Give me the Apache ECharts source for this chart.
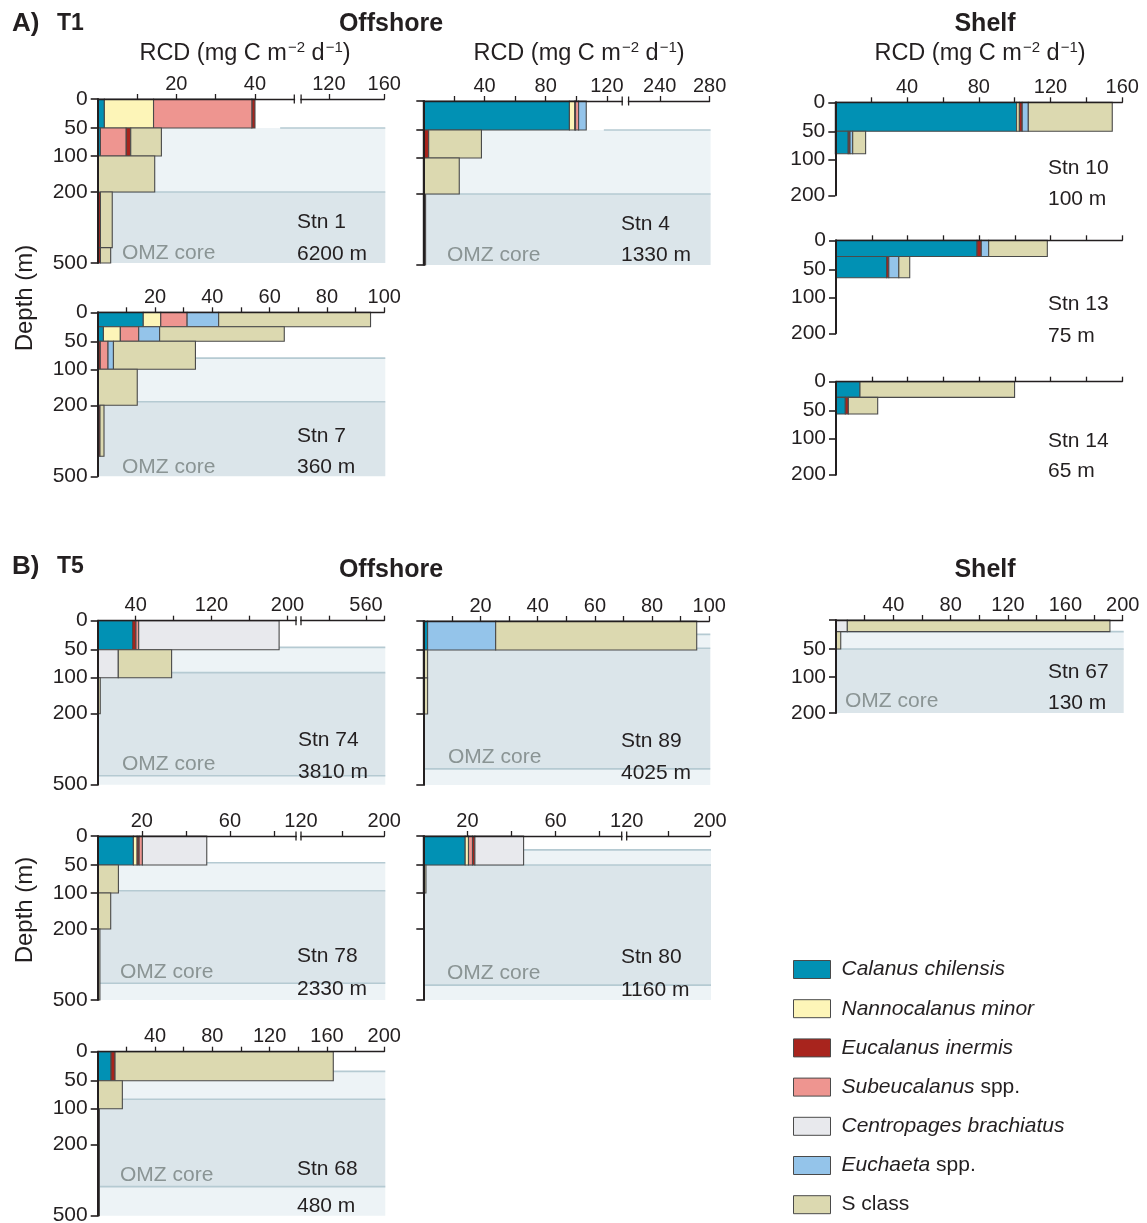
<!DOCTYPE html>
<html>
<head>
<meta charset="utf-8">
<script src="https://cdn.jsdelivr.net/npm/echarts@6/dist/echarts.min.js"></script>
<style>
  html, body { margin: 0; padding: 0; background: #ffffff; }
  #chart { width: 1147px; height: 1223px; }
</style>
</head>
<body>
<div id="chart"></div>
<script>
// ---- taxa ----
const species = ['Calanus chilensis', 'Nannocalanus minor', 'Eucalanus inermis',
  'Subeucalanus spp.', 'Centropages brachiatus', 'Euchaeta spp.', 'S class'];
const CC = 0, NM = 1, EI = 2, SU = 3, CB = 4, EU = 5, SC = 6;

// ---- respiratory carbon demand per stratum ----
// row: [stratum top (m), stratum bottom (m), taxon, RCD (mg C m-2 d-1)], stacked in row order
const stn1 = [
  [0, 50, CC, 1.7], [0, 50, NM, 12.5], [0, 50, SU, 25.0], [0, 50, EI, 0.8],
  [50, 100, CC, 0.7], [50, 100, SU, 6.5], [50, 100, EI, 1.2], [50, 100, SC, 7.8],
  [100, 200, SC, 14.5],
  [200, 435, EI, 0.7], [200, 435, SC, 3.0],
  [435, 500, EI, 0.7], [435, 500, SC, 2.6]
];
const stn4 = [
  [0, 50, CC, 95.5], [0, 50, NM, 3.5], [0, 50, EI, 0.5], [0, 50, SU, 2.0], [0, 50, EU, 5.0],
  [50, 100, EI, 3.5], [50, 100, SC, 34.5],
  [100, 200, SC, 23.5],
  [200, 500, EI, 1.5]
];
const stn7 = [
  [0, 25, CC, 15.9], [0, 25, NM, 6.1], [0, 25, SU, 9.2], [0, 25, EU, 11.0], [0, 25, SC, 53.0],
  [25, 50, CC, 2.0], [25, 50, NM, 5.9], [25, 50, SU, 6.4], [25, 50, EU, 7.3], [25, 50, SC, 43.5],
  [50, 100, EI, 0.9], [50, 100, SU, 2.7], [50, 100, EU, 1.9], [50, 100, SC, 28.6],
  [100, 200, SC, 13.8],
  [200, 415, EI, 0.8], [200, 415, SC, 1.4]
];
const stn10 = [
  [0, 50, CC, 101.1], [0, 50, NM, 1.5], [0, 50, EI, 1.6], [0, 50, EU, 3.4], [0, 50, SC, 46.8],
  [50, 90, CC, 7.2], [50, 90, EI, 1.0], [50, 90, EU, 1.5], [50, 90, SC, 7.2]
];
const stn13 = [
  [0, 28, CC, 78.8], [0, 28, EI, 2.4], [0, 28, EU, 4.1], [0, 28, SC, 32.8],
  [28, 65, CC, 28.3], [28, 65, EI, 1.2], [28, 65, EU, 5.6], [28, 65, SC, 6.1]
];
const stn14 = [
  [0, 27, CC, 13.4], [0, 27, SC, 86.4],
  [27, 56, CC, 5.2], [27, 56, EI, 1.7], [27, 56, SC, 16.4]
];
const stn74 = [
  [0, 50, CC, 36.8], [0, 50, EI, 3.5], [0, 50, SU, 2.9], [0, 50, CB, 148.0],
  [50, 100, CB, 21.7], [50, 100, SC, 56.2],
  [100, 200, SC, 2.7]
];
const stn89 = [
  [0, 50, CC, 1.5], [0, 50, EU, 23.8], [0, 50, SC, 70.3],
  [50, 100, SC, 1.5], [100, 200, SC, 1.5]
];
const stn78 = [
  [0, 50, CC, 16.2], [0, 50, NM, 1.7], [0, 50, EI, 0.9], [0, 50, SU, 1.5], [0, 50, CB, 29.2],
  [50, 100, SC, 9.4], [100, 200, SC, 5.9], [200, 500, SC, 1.0]
];
const stn80 = [
  [0, 50, CC, 19.0], [0, 50, NM, 1.5], [0, 50, SU, 1.8], [0, 50, EI, 1.1], [0, 50, CB, 22.1],
  [50, 100, SC, 1.2]
];
const stn68 = [
  [0, 50, CC, 9.3], [0, 50, EI, 2.8], [0, 50, SC, 152.3],
  [50, 100, SC, 17.2], [100, 200, SC, 1.2], [200, 500, SC, 1.2]
];
const stn67 = [
  [0, 20, CB, 7.9], [0, 20, SC, 183.2],
  [20, 50, SC, 3.3]
];

// ---- oxygen zones: [top (m), bottom (m), 0 = oxycline / 1 = OMZ core] ----
const zones1 = [[50, 200, 0], [200, 500, 1]];
const zones4 = [[50, 200, 0], [200, 500, 1]];
const zones7 = [[80, 190, 0], [190, 500, 1]];
const zones74 = [[46, 91, 0], [91, 462, 1], [462, 500, 0]];
const zones89 = [[23, 47, 0], [47, 432, 1], [432, 500, 0]];
const zones78 = [[46, 96, 0], [96, 429, 1], [429, 500, 0]];
const zones80 = [[24, 50, 0], [50, 437, 1], [437, 500, 0]];
const zones68 = [[34, 83, 0], [83, 377, 1], [377, 500, 0]];
const zones67 = [[20, 50, 0], [50, 200, 1]];

// ---- axis ticks and tick labels ----
const deepDepthTicks = [0, 50, 100, 200, 500];
const shelfDepthTicks = [0, 50, 100, 200];
const stn1Ticks = [10, 20, 30, 40, 120, 160];
const stn1Labels = [20, 40, 120, 160];
const stn4Ticks = [20, 40, 60, 80, 100, 120, 240, 280];
const stn4Labels = [40, 80, 120, 240, 280];
const ticks0to100 = [10, 20, 30, 40, 50, 60, 70, 80, 90, 100];
const labels0to100 = [20, 40, 60, 80, 100];
const ticks0to160 = [20, 40, 60, 80, 100, 120, 140, 160];
const labels0to160 = [40, 80, 120, 160];
const stn74Ticks = [40, 80, 120, 160, 200, 480, 560, 600];
const stn74Labels = [40, 120, 200, 560];
const brokenTicks200 = [20, 40, 60, 80, 160, 200];
const brokenLabels200 = [20, 60, 120, 200];
const ticks0to200 = [20, 40, 60, 80, 100, 120, 140, 160, 180, 200];
const labels0to200 = [40, 80, 120, 160, 200];

// ---- styling ----
const FONT = '"Liberation Sans", Arial, Helvetica, sans-serif';
const INK = '#231f20';
const EDGE = '#4a4a4a';
const speciesColors = ['#0191b4', '#fdf5b8', '#a8241d', '#ee9590', '#e8e9ed', '#94c4ea', '#dcd9b0'];
const zoneFill = ['#edf3f6', '#dbe5ea'];
const zoneLine = '#b5cad2';

// depth scale: piecewise, uneven spacing between labelled depths
const deepDepthScale = [[0, 0], [50, 29], [100, 57], [200, 93], [500, 164]];
const shelfDepthScale = [[0, 0], [50, 29], [100, 57], [200, 93]];

const panels = [
  { rows: stn1, zones: zones1, lineFrom: [46.4, 0], left: 97.7, top: 99, width: 286.6, depthScale: deepDepthScale, depthTicks: deepDepthTicks, depthLabels: deepDepthTicks,
    rcdScale: [[0, 0], [50, 196.6], [100, 203.4], [160, 286.6]], gap: [50, 100], ticks: stn1Ticks, labels: stn1Labels,
    name: 'Stn 1', bottom: '6200 m', nameAt: [297, 222, 254], coreAt: [122, 253] },
  { rows: stn4, zones: zones4, lineFrom: [118, 0], left: 423.3, top: 101, width: 286.3, depthScale: deepDepthScale, depthTicks: deepDepthTicks, depthLabels: [],
    rcdScale: [[0, 0], [130, 198.9], [215, 205.3], [280, 286.3]], gap: [130, 215], ticks: stn4Ticks, labels: stn4Labels,
    name: 'Stn 4', bottom: '1330 m', nameAt: [621, 224, 255], coreAt: [447, 255] },
  { rows: stn7, zones: zones7, left: 97.7, top: 312.3, width: 286.6, depthScale: deepDepthScale, depthTicks: deepDepthTicks, depthLabels: deepDepthTicks,
    rcdScale: [[0, 0], [100, 286.6]], ticks: ticks0to100, labels: labels0to100,
    name: 'Stn 7', bottom: '360 m', nameAt: [297, 436, 467], coreAt: [122, 467] },
  { rows: stn10, zones: [], left: 835.3, top: 102.3, width: 287, depthScale: shelfDepthScale, depthTicks: shelfDepthTicks, depthLabels: shelfDepthTicks,
    rcdScale: [[0, 0], [160, 287]], ticks: ticks0to160, labels: labels0to160,
    name: 'Stn 10', bottom: '100 m', nameAt: [1048, 168, 199] },
  { rows: stn13, zones: [], left: 836, top: 240.3, width: 286.3, depthScale: shelfDepthScale, depthTicks: shelfDepthTicks, depthLabels: shelfDepthTicks,
    rcdScale: [[0, 0], [160, 286.3]], ticks: ticks0to160, labels: [],
    name: 'Stn 13', bottom: '75 m', nameAt: [1048, 304, 336] },
  { rows: stn14, zones: [], left: 836, top: 381.7, width: 286.3, depthScale: shelfDepthScale, depthTicks: shelfDepthTicks, depthLabels: shelfDepthTicks,
    rcdScale: [[0, 0], [160, 286.3]], ticks: ticks0to160, labels: [],
    name: 'Stn 14', bottom: '65 m', nameAt: [1048, 441, 471] },
  { rows: stn74, zones: zones74, left: 97.7, top: 620.7, width: 286.6, depthScale: deepDepthScale, depthTicks: deepDepthTicks, depthLabels: deepDepthTicks,
    rcdScale: [[0, 0], [209, 198.3], [418, 203.3], [600, 286.6]], gap: [209, 418], ticks: stn74Ticks, labels: stn74Labels,
    name: 'Stn 74', bottom: '3810 m', nameAt: [298, 740, 772], coreAt: [122, 764] },
  { rows: stn89, zones: zones89, left: 423.3, top: 621, width: 286, depthScale: deepDepthScale, depthTicks: deepDepthTicks, depthLabels: [],
    rcdScale: [[0, 0], [100, 286]], ticks: ticks0to100, labels: labels0to100,
    name: 'Stn 89', bottom: '4025 m', nameAt: [621, 741, 773], coreAt: [448, 757] },
  { rows: stn78, zones: zones78, left: 97.7, top: 836, width: 286.6, depthScale: deepDepthScale, depthTicks: deepDepthTicks, depthLabels: deepDepthTicks,
    rcdScale: [[0, 0], [90, 198.3], [120, 203.3], [200, 286.6]], gap: [90, 120], ticks: brokenTicks200, labels: brokenLabels200,
    name: 'Stn 78', bottom: '2330 m', nameAt: [297, 956, 989], coreAt: [120, 972] },
  { rows: stn80, zones: zones80, left: 423.3, top: 836, width: 286.7, depthScale: deepDepthScale, depthTicks: deepDepthTicks, depthLabels: [],
    rcdScale: [[0, 0], [90, 198.4], [120, 203.4], [200, 286.7]], gap: [90, 120], ticks: brokenTicks200, labels: brokenLabels200,
    name: 'Stn 80', bottom: '1160 m', nameAt: [621, 957, 990], coreAt: [447, 973] },
  { rows: stn68, zones: zones68, left: 97.7, top: 1051.7, width: 286.6, depthScale: deepDepthScale, depthTicks: deepDepthTicks, depthLabels: deepDepthTicks,
    rcdScale: [[0, 0], [200, 286.6]], ticks: ticks0to200, labels: labels0to200,
    name: 'Stn 68', bottom: '480 m', nameAt: [297, 1169, 1206], coreAt: [120, 1175] },
  { rows: stn67, zones: zones67, left: 836, top: 620, width: 286.7, depthScale: shelfDepthScale, depthTicks: shelfDepthTicks, depthLabels: [50, 100, 200],
    rcdScale: [[0, 0], [200, 286.7]], ticks: ticks0to200, labels: labels0to200,
    name: 'Stn 67', bottom: '130 m', nameAt: [1048, 672, 703], coreAt: [845, 701] }
];

// piecewise-linear mapping from data value to axis position
function piecewise(knots) {
  return function (v) {
    if (v <= knots[0][0]) return knots[0][1];
    for (let i = 1; i < knots.length; i++) {
      const [v0, p0] = knots[i - 1], [v1, p1] = knots[i];
      if (v <= v1) return p0 + (v - v0) / (v1 - v0) * (p1 - p0);
    }
    return knots[knots.length - 1][1];
  };
}

function renderBar(params, api) {
  const a = api.coord([api.value(0), api.value(2)]);
  const b = api.coord([api.value(1), api.value(3)]);
  return {
    type: 'rect',
    shape: { x: a[0], y: a[1], width: b[0] - a[0], height: b[1] - a[1] },
    style: { fill: api.visual('color'), stroke: EDGE, lineWidth: 1.1 }
  };
}

function makeZoneRenderer(xMax) {
  return function (params, api) {
    const a = api.coord([0, api.value(0)]);
    const b = api.coord([xMax, api.value(1)]);
    const l = api.coord([api.value(3), api.value(0)]);
    return {
      type: 'group',
      children: [
        { type: 'rect', shape: { x: a[0], y: a[1], width: b[0] - a[0] + 1, height: b[1] - a[1] },
          style: { fill: zoneFill[api.value(2)] } },
        { type: 'line', shape: { x1: l[0], y1: a[1], x2: b[0] + 1, y2: a[1] },
          style: { stroke: zoneLine, lineWidth: 1.6 } }
      ]
    };
  };
}

function renderGap(params, api) {
  const a = api.coord([api.value(0), 0]);
  const b = api.coord([api.value(1), 0]);
  const y = a[1];
  return {
    type: 'group',
    children: [
      { type: 'rect', shape: { x: a[0] + 0.8, y: y - 2.5, width: b[0] - a[0] - 1.6, height: 5 }, style: { fill: '#ffffff' } },
      { type: 'line', shape: { x1: a[0], y1: y - 4.5, x2: a[0], y2: y + 4.5 }, style: { stroke: INK, lineWidth: 1.3 } },
      { type: 'line', shape: { x1: b[0], y1: y - 4.5, x2: b[0], y2: y + 4.5 }, style: { stroke: INK, lineWidth: 1.3 } }
    ]
  };
}

const option = {
  animation: false,
  backgroundColor: '#ffffff',
  textStyle: { fontFamily: FONT },
  grid: [], xAxis: [], yAxis: [], series: [],
  legend: {
    orient: 'vertical', left: 793, top: 959, padding: 0,
    itemWidth: 37, itemHeight: 18, itemGap: 18.2,
    selectedMode: false,
    data: species.map((s, i) => ({ name: s, icon: 'rect',
      itemStyle: { color: speciesColors[i], borderColor: EDGE, borderWidth: 1 } })),
    formatter: function (name) {
      if (name === 'S class') return '{r|S class}';
      if (name.endsWith(' spp.')) return '{i|' + name.slice(0, -5) + '}{r| spp.}';
      return '{i|' + name + '}';
    },
    textStyle: {
      fontSize: 21, color: INK, fontFamily: FONT, lineHeight: 18, padding: [0, 0, 0, 6],
      rich: {
        i: { fontStyle: 'italic', fontSize: 21, color: INK, fontFamily: FONT, lineHeight: 18 },
        r: { fontStyle: 'normal', fontSize: 21, color: INK, fontFamily: FONT, lineHeight: 18 }
      }
    }
  },
  graphic: { elements: [] }
};

const texts = option.graphic.elements;
function addText(str, x, y, opts) {
  opts = opts || {};
  texts.push({
    type: 'text', x: x, y: y, z: 100, rotation: opts.rotation || 0, silent: true,
    style: {
      text: str, fill: opts.color || INK,
      fontSize: opts.size || 21, fontWeight: opts.weight || 'normal', fontFamily: FONT,
      align: opts.align || 'left', textAlign: opts.align || 'left',
      verticalAlign: 'middle', textVerticalAlign: 'middle',
      rich: opts.rich
    }
  });
}

panels.forEach((p, gi) => {
  const fx = piecewise(p.rcdScale);
  const fy = piecewise(p.depthScale);
  const H = p.depthScale[p.depthScale.length - 1][1];
  option.grid.push({ left: p.left, top: p.top, width: p.width, height: H, outerBoundsMode: 'none' });

  const xLabelMap = new Map(p.labels.map(v => [fx(v).toFixed(2), String(v)]));
  option.xAxis.push({
    gridIndex: gi, type: 'value', position: 'top', min: 0, max: p.width, z: 10,
    axisLine: { show: true, onZero: false, lineStyle: { color: INK, width: 1.3 } },
    axisTick: { show: true, length: 5, customValues: p.ticks.map(fx), lineStyle: { color: INK, width: 1.3 } },
    axisLabel: { show: p.labels.length > 0, customValues: p.labels.map(fx),
      formatter: v => xLabelMap.get(Number(v).toFixed(2)) || '',
      fontSize: 20, color: INK, fontFamily: FONT, margin: 5 },
    splitLine: { show: false }
  });

  const yLabelMap = new Map(p.depthLabels.map(d => [fy(d).toFixed(2), String(d)]));
  option.yAxis.push({
    gridIndex: gi, type: 'value', inverse: true, min: 0, max: H, z: 10,
    axisLine: { show: true, onZero: false, lineStyle: { color: INK, width: 2 } },
    axisTick: { show: true, length: 7, customValues: p.depthTicks.map(fy), lineStyle: { color: INK, width: 1.6 } },
    axisLabel: { show: p.depthLabels.length > 0, customValues: p.depthLabels.map(fy),
      formatter: v => yLabelMap.get(Number(v).toFixed(2)) || '',
      fontSize: 21, color: INK, fontFamily: FONT, margin: 10 },
    splitLine: { show: false }
  });

  // oxygen zones behind the bars
  if (p.zones.length) {
    option.series.push({
      type: 'custom', name: 'zones-' + gi, xAxisIndex: gi, yAxisIndex: gi, z: 1, silent: true,
      encode: { y: [0, 1] },
      data: p.zones.map((z, k) => [fy(z[0]), fy(z[1]), z[2], fx(p.lineFrom ? p.lineFrom[k] : 0)]),
      renderItem: makeZoneRenderer(p.width)
    });
  }

  // stacked bars, one series per taxon
  const offsets = {};
  const perTaxon = species.map(() => []);
  p.rows.forEach(([d0, d1, s, v]) => {
    const key = d0 + '-' + d1;
    const x0 = offsets[key] || 0;
    const x1 = x0 + v;
    offsets[key] = x1;
    perTaxon[s].push([fx(x0), fx(x1), fy(d0), fy(d1)]);
  });
  perTaxon.forEach((data, s) => {
    if (!data.length) return;
    option.series.push({
      type: 'custom', name: species[s], xAxisIndex: gi, yAxisIndex: gi, z: 3,
      itemStyle: { color: speciesColors[s] },
      encode: { x: [0, 1], y: [2, 3] },
      data: data, renderItem: renderBar
    });
  });

  // axis break
  if (p.gap) {
    option.series.push({
      type: 'custom', name: 'gap-' + gi, xAxisIndex: gi, yAxisIndex: gi, z: 20, silent: true,
      encode: { x: [0, 1] },
      data: [[fx(p.gap[0]), fx(p.gap[1])]],
      renderItem: renderGap
    });
  }

  addText(p.name, p.nameAt[0], p.nameAt[1]);
  addText(p.bottom, p.nameAt[0], p.nameAt[2]);
  if (p.coreAt) addText('OMZ core', p.coreAt[0], p.coreAt[1], { color: '#8a9494' });
});

// headings
const rcdRich = {
  n: { fontSize: 23.5, fontFamily: FONT, color: INK, lineHeight: 27 },
  s: { fontSize: 15, fontFamily: FONT, color: INK, lineHeight: 27, verticalAlign: 'top', padding: [0, 0, 0, 1] }
};
const rcdTitle = '{n|RCD (mg C m}{s|\u22122}{n| d}{s|\u22121}{n|)}';
addText('A)', 12, 24, { size: 26, weight: 'bold' });
addText('T1', 57, 24, { size: 23, weight: 'bold' });
addText('Offshore', 391, 24, { size: 25, weight: 'bold', align: 'center' });
addText('Shelf', 985, 24, { size: 25, weight: 'bold', align: 'center' });
addText(rcdTitle, 245, 54, { align: 'center', rich: rcdRich });
addText(rcdTitle, 579, 54, { align: 'center', rich: rcdRich });
addText(rcdTitle, 980, 54, { align: 'center', rich: rcdRich });
addText('Depth (m)', 25, 298, { size: 24, align: 'center', rotation: Math.PI / 2 });
addText('B)', 12, 567, { size: 26, weight: 'bold' });
addText('T5', 57, 567, { size: 23, weight: 'bold' });
addText('Offshore', 391, 570, { size: 25, weight: 'bold', align: 'center' });
addText('Shelf', 985, 570, { size: 25, weight: 'bold', align: 'center' });
addText('Depth (m)', 25, 910, { size: 24, align: 'center', rotation: Math.PI / 2 });

const chart = echarts.init(document.getElementById('chart'), null, { renderer: 'canvas' });
chart.setOption(option);
</script>
</body>
</html>
